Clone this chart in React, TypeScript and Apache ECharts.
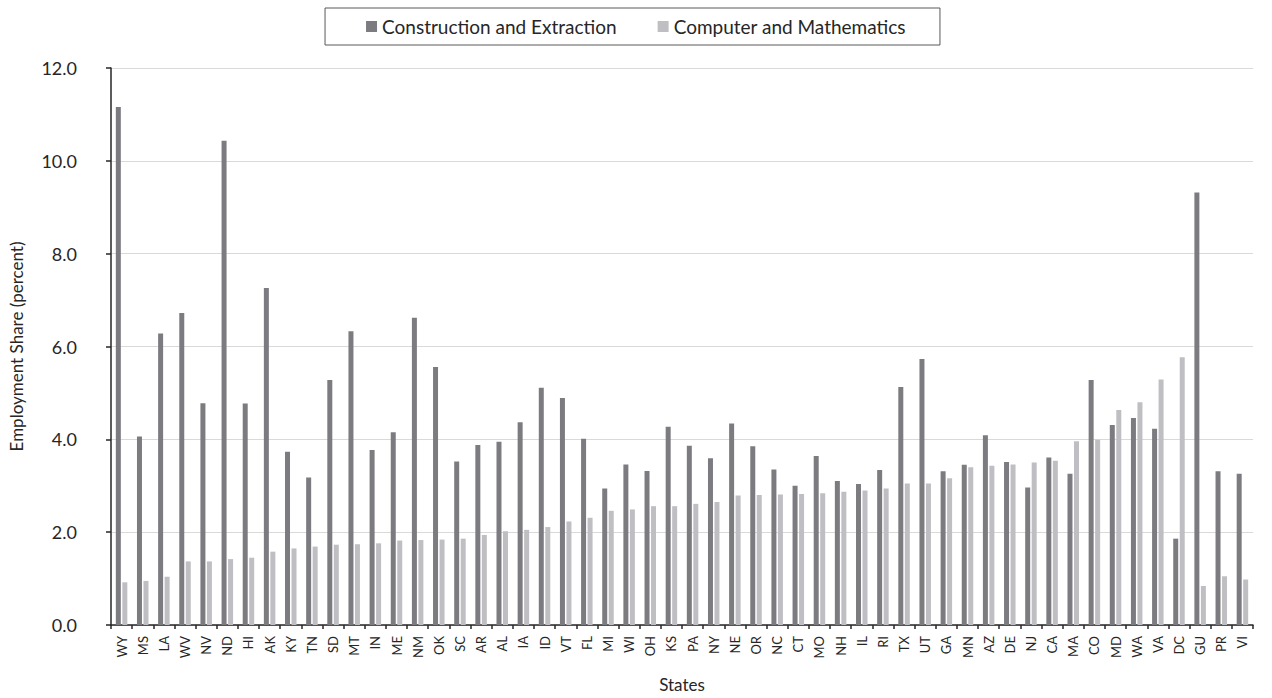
import React, { useEffect, useRef } from "react";
import * as echarts from "echarts";

const categories = ["WY","MS","LA","WV","NV","ND","HI","AK","KY","TN","SD","MT","IN","ME","NM","OK","SC","AR","AL","IA","ID","VT","FL","MI","WI","OH","KS","PA","NY","NE","OR","NC","CT","MO","NH","IL","RI","TX","UT","GA","MN","AZ","DE","NJ","CA","MA","CO","MD","WA","VA","DC","GU","PR","VI"];

const construction = [11.16,4.06,6.28,6.72,4.78,10.43,4.77,7.26,3.73,3.18,5.28,6.33,3.77,4.15,6.62,5.56,3.52,3.88,3.95,4.37,5.11,4.89,4.01,2.94,3.46,3.32,4.27,3.86,3.59,4.34,3.85,3.35,3.0,3.64,3.1,3.04,3.34,5.13,5.73,3.31,3.45,4.09,3.51,2.96,3.61,3.26,5.28,4.31,4.46,4.23,1.86,9.32,3.31,3.26];

const computer = [0.92,0.95,1.04,1.37,1.37,1.42,1.45,1.58,1.65,1.69,1.73,1.74,1.76,1.82,1.83,1.84,1.86,1.94,2.02,2.05,2.11,2.23,2.31,2.46,2.49,2.56,2.56,2.61,2.65,2.79,2.8,2.81,2.82,2.84,2.87,2.9,2.94,3.05,3.05,3.16,3.4,3.43,3.46,3.5,3.54,3.96,3.99,4.63,4.8,5.29,5.77,0.84,1.05,0.98];

const seriesNames = ["Construction and Extraction", "Computer and Mathematics"];
const yTicks = { min: 0, max: 12, interval: 2 };

export default function App() {
  const ref = useRef<HTMLDivElement>(null);
  useEffect(() => {
    if (!ref.current) return;
    const chart = echarts.init(ref.current, undefined, { renderer: "svg" });
    const font = "Lato";
    chart.setOption({
      animation: false,
      backgroundColor: "#ffffff",
      textStyle: { fontFamily: font },
      legend: {
        top: 8,
        left: "center",
        icon: "rect",
        itemWidth: 11,
        itemHeight: 11,
        itemGap: 41,
        padding: [9, 34, 9, 41],
        borderColor: "#595959",
        borderWidth: 1,
        textStyle: { fontFamily: font, fontSize: 19, color: "#262626" },
        data: seriesNames,
      },
      grid: { left: 102, right: 19, top: 68, bottom: 61, containLabel: false },
      xAxis: {
        type: "category",
        data: categories,
        name: "States",
        nameLocation: "middle",
        nameGap: 51,
        nameTextStyle: { fontFamily: font, fontSize: 17, color: "#262626" },
        axisLine: { lineStyle: { color: "#262626", width: 1.5 } },
        axisTick: { show: true, alignWithLabel: false, length: 4, lineStyle: { color: "#262626", width: 1.5 } },
        axisLabel: { interval: 0, rotate: 90, margin: 11, fontFamily: font, fontSize: 13, color: "#262626" },
      },
      yAxis: {
        type: "value",
        min: yTicks.min,
        max: yTicks.max,
        interval: yTicks.interval,
        name: "Employment Share (percent)",
        nameLocation: "middle",
        nameGap: 86,
        nameRotate: 90,
        nameTextStyle: { fontFamily: font, fontSize: 17, color: "#262626" },
        axisLine: { show: true, lineStyle: { color: "#262626", width: 1.5 } },
        axisTick: { show: true, length: 5, lineStyle: { color: "#262626", width: 1.5 } },
        axisLabel: { margin: 34, fontFamily: font, fontSize: 18, color: "#262626", formatter: (v: number) => v.toFixed(1) },
        splitLine: { lineStyle: { color: "#d9d9d9", width: 1 } },
      },
      series: [
        { name: seriesNames[0], type: "bar", data: construction, barWidth: 5, barGap: "30%", itemStyle: { color: "#7c7c80" } },
        { name: seriesNames[1], type: "bar", data: computer, barWidth: 5, barGap: "30%", itemStyle: { color: "#bfbfc3" } },
      ],
    });
    return () => chart.dispose();
  }, []);
  return <div ref={ref} style={{ position: "fixed", left: 0, top: 0, width: 1272, height: 698 }} />;
}
